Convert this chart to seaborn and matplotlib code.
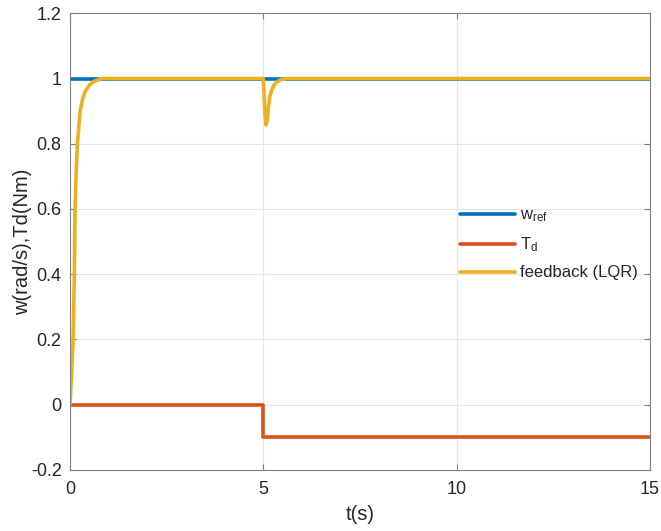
import matplotlib
matplotlib.use("Agg")
import matplotlib.pyplot as plt
import seaborn as sns
import numpy as np

# values
t_ref = [0, 15]
w_ref = [1, 1]

t_dist = [0, 5, 5, 15]
T_d = [0, 0, -0.1, -0.1]

t_fb = [0, 0.04, 0.08, 0.11, 0.13, 0.16, 0.19, 0.26, 0.33, 0.39, 0.5, 0.6, 0.8, 1.0,
        5.0, 5.02, 5.04, 5.07, 5.1, 5.13, 5.17, 5.22, 5.28, 5.35, 5.45, 5.6, 15]
feedback = [0, 0.1, 0.2, 0.4, 0.6, 0.72, 0.8, 0.9, 0.94, 0.96, 0.98, 0.99, 1.0, 1.0,
            1.0, 0.95, 0.9, 0.857, 0.87, 0.91, 0.945, 0.965, 0.98, 0.99, 0.996, 1.0, 1.0]

labels = ["w$_{\\mathrm{ref}}$", "T$_{\\mathrm{d}}$", "feedback (LQR)"]
colors = ["#0072BD", "#D95319", "#EDB120"]

sns.set_style("whitegrid", {"grid.color": "#e6e6e6", "axes.edgecolor": "#808080",
                            "xtick.direction": "in", "ytick.direction": "in",
                            "xtick.bottom": True, "ytick.left": True})
plt.rcParams["font.family"] = ["Liberation Sans", "DejaVu Sans"]
plt.rcParams["mathtext.fontset"] = "custom"
plt.rcParams["mathtext.rm"] = "Liberation Sans"
plt.rcParams["mathtext.it"] = "Liberation Sans:italic"

fig = plt.figure(figsize=(6.61, 5.31), dpi=100)
ax = fig.add_axes([0.106, 0.115, 0.877, 0.86])

series = [(t_ref, w_ref), (t_dist, T_d), (t_fb, feedback)]
for (x, y), lab, c in zip(series, labels, colors):
    sns.lineplot(x=x, y=y, ax=ax, color=c, linewidth=2.6, label=lab,
                 estimator=None, sort=False)

ax.set_xlim(0, 15)
ax.set_ylim(-0.2, 1.2)
ax.set_xticks([0, 5, 10, 15])
yt = np.round(np.arange(-0.2, 1.21, 0.2), 1)
ax.set_yticks(yt)
ax.set_yticklabels([("%g" % v) for v in yt])
ax.tick_params(labelsize=13, colors="#262626", length=4, width=0.8)
ax.tick_params(axis="both", color="#808080")
ax.tick_params(top=True, right=True, direction="in")
ax.tick_params(axis="x", pad=8)
ax.tick_params(axis="y", pad=6)
for s in ax.spines.values():
    s.set_linewidth(0.8)
ax.grid(True, linewidth=0.8)

ax.set_xlabel("t(s)", fontsize=14.5, color="#262626", labelpad=5)
ax.set_ylabel("w(rad/s),Td(Nm)", fontsize=14.5, color="#262626", labelpad=-1)

ax.legend(loc="upper left", bbox_to_anchor=(0.672, 0.575), frameon=False,
          fontsize=12, handlelength=3.3, handletextpad=0.35, labelspacing=0.68,
          borderpad=0, borderaxespad=0)

fig.savefig("out.png", dpi=100)
